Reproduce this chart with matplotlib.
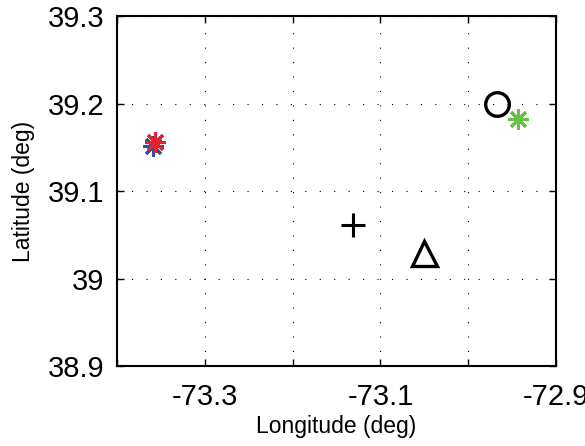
import matplotlib
matplotlib.use("Agg")
import matplotlib.pyplot as plt
from matplotlib.ticker import FixedFormatter, FixedLocator

plt.rcParams['font.family'] = ['Liberation Sans', 'DejaVu Sans']

# Positions (longitude, latitude) of the plotted sites
blue_star = (-73.3593, 39.151)
red_star = (-73.3567, 39.156)
green_star = (-72.9436, 39.182)
circle = (-72.9675, 39.200)
plus = (-73.1309, 39.061)
triangle = (-73.0503, 39.029)

xticks = [-73.4, -73.3, -73.2, -73.1, -73.0, -72.9]
xticklabels = ['', '-73.3', '', '-73.1', '', '-72.9']
yticks = [38.9, 39.0, 39.1, 39.2, 39.3]
yticklabels = ['38.9', '39', '39.1', '39.2', '39.3']

fig = plt.figure(figsize=(5.85, 4.46), dpi=100)
ax = fig.add_axes([0.2, 0.1794, 0.7504, 0.7846])

ast = (8, 2, 0)
ax.plot(*blue_star, marker=ast, color='#2f4f9f', ms=15, mew=2.2, ls='none')
ax.plot(*red_star, marker=ast, color='#e8202a', ms=15, mew=2.2, ls='none')
ax.plot(*green_star, marker=ast, color='#66c244', ms=15, mew=2.2, ls='none')
ax.plot(*circle, marker='o', mfc='none', mec='black', ms=17, mew=2.4, ls='none')
ax.plot(*plus, marker='+', color='black', ms=17, mew=2.2, ls='none')
ax.plot(*triangle, marker='^', mfc='none', mec='black', ms=18, mew=2.4, ls='none')

ax.set_xlim(-73.4, -72.9)
ax.set_ylim(38.9, 39.3)
ax.xaxis.set_major_locator(FixedLocator(xticks))
ax.xaxis.set_major_formatter(FixedFormatter(xticklabels))
ax.yaxis.set_major_locator(FixedLocator(yticks))
ax.yaxis.set_major_formatter(FixedFormatter(yticklabels))
ax.tick_params(direction='in', length=5, width=1, top=True, right=True,
               labelsize=21)
ax.tick_params(axis='x', pad=12)
ax.tick_params(axis='y', pad=9)
ax.grid(True, color='black', linestyle=(0, (1, 12)), linewidth=0.8)
for s in ax.spines.values():
    s.set_linewidth(1.5)

ax.set_xlabel('Longitude (deg)', fontsize=16.5, labelpad=3)
ax.set_ylabel('Latitude (deg)', fontsize=16.5, labelpad=9)

fig.savefig('out.png', dpi=100)
